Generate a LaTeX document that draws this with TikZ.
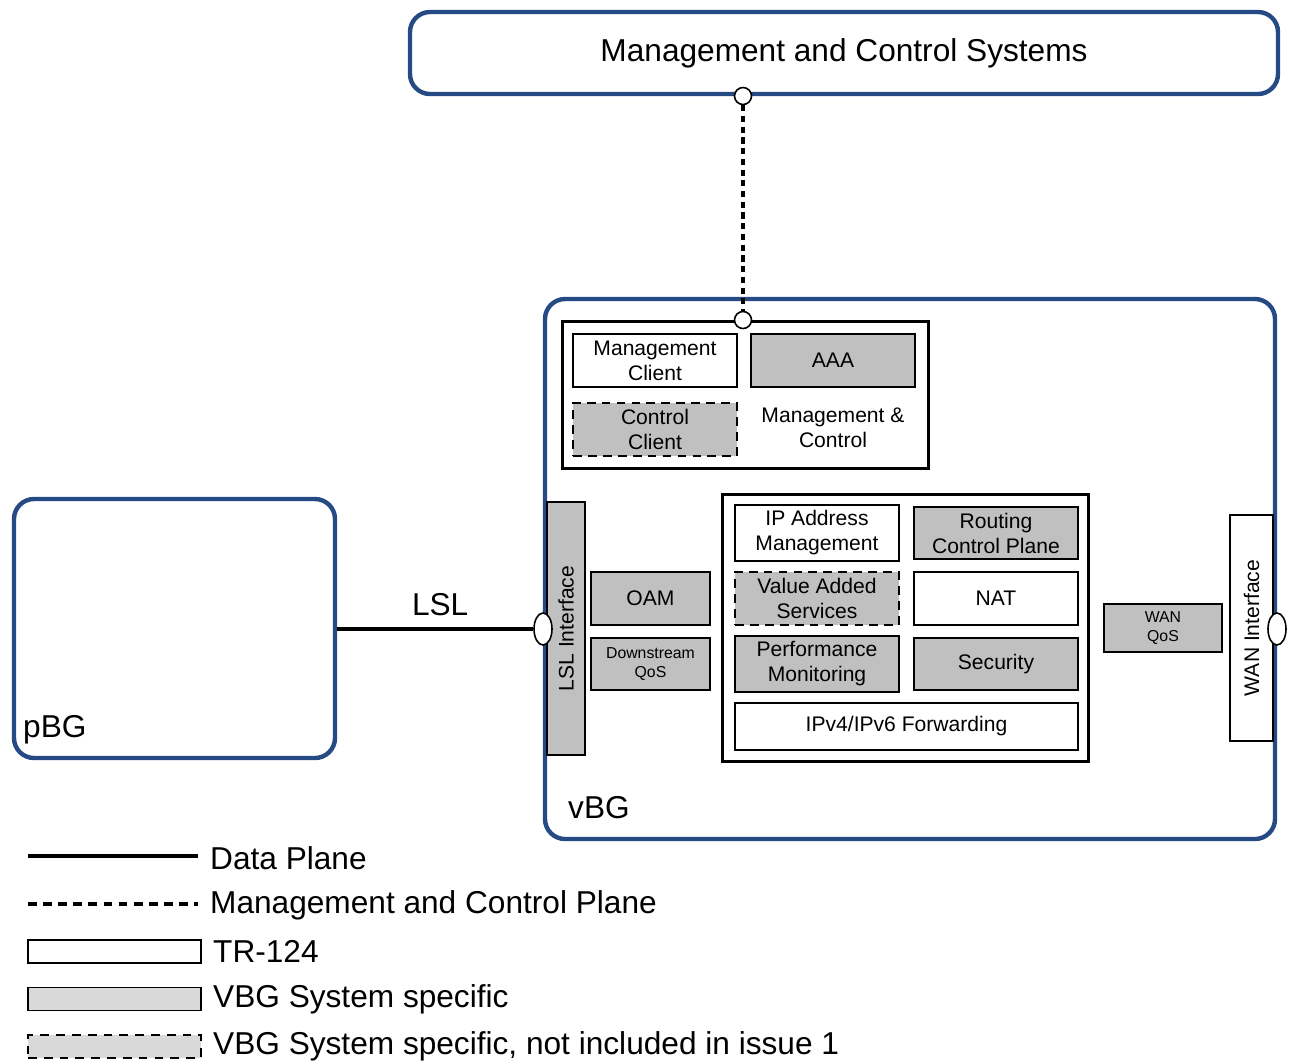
\documentclass[tikz,border=0pt]{standalone}
\usepackage{fontspec}
\setmainfont{Liberation Sans}
\usetikzlibrary{shapes.geometric}
\definecolor{frameblue}{RGB}{38,74,132}
\definecolor{sysgray}{RGB}{192,192,192}
\definecolor{leggray}{RGB}{217,217,217}
\tikzset{
  big/.style={font=\fontsize{18}{21}\selectfont},
  outer/.style={draw=frameblue, line width=2.5pt, rounded corners=0.4cm},
  group/.style={draw, line width=1.6pt},
  trbox/.style={draw, line width=0.8pt, fill=white, align=center, font=\fontsize{12}{14.2}\selectfont},
  sysbox/.style={trbox, fill=sysgray},
  sysdash/.style={sysbox, dash pattern=on 5pt off 3.5pt},
  port/.style={draw, line width=0.9pt, fill=white, inner sep=0pt},
  smalltxt/.style={font=\fontsize{9}{10.5}\selectfont}
}
\begin{document}
\begin{tikzpicture}
\useasboundingbox (0,0) rectangle (25.82,-21.26);
% top: management systems
\node[outer, big, minimum width=17.36cm, minimum height=1.64cm] (mcs) at (16.88,-1.06) {Management and Control Systems};
% vBG frame and pBG
\node[outer, minimum width=14.60cm, minimum height=10.80cm] (vbg) at (18.20,-11.38) {};
\node[big, anchor=west] at (11.24,-16.16) {vBG};
\node[outer, minimum width=6.42cm, minimum height=5.18cm] (pbg) at (3.49,-12.57) {};
\node[big, anchor=west] at (0.34,-14.60) {pBG};
% management & control block
\node[group, minimum width=7.32cm, minimum height=2.94cm] (mc) at (14.91,-7.90) {};
\node[trbox, minimum width=3.28cm, minimum height=1.06cm] (mgmtcl) at (13.10,-7.21) {Management\\Client};
\node[sysbox, minimum width=3.28cm, minimum height=1.06cm] (aaa) at (16.66,-7.21) {AAA};
\node[sysdash, minimum width=3.28cm, minimum height=1.06cm] (ctrlcl) at (13.10,-8.59) {Control\\Client};
\node[align=center, font=\fontsize{12}{14.2}\selectfont] (mclabel) at (16.66,-8.56) {Management \&\\Control};
% interfaces
\node[sysbox, rotate=90, minimum width=5.06cm, minimum height=0.76cm] (lsl) at (11.32,-12.57) {LSL Interface};
\node[trbox, rotate=90, minimum width=4.52cm, minimum height=0.86cm] (wan) at (25.03,-12.56) {WAN Interface};
\node[sysbox, minimum width=2.38cm, minimum height=1.06cm] (oam) at (13.01,-11.97) {OAM};
\node[sysbox, smalltxt, minimum width=2.38cm, minimum height=1.04cm] (dsqos) at (13.01,-13.28) {Downstream\\QoS};
\node[sysbox, smalltxt, minimum width=2.36cm, minimum height=0.96cm] (wanqos) at (23.26,-12.56) {WAN\\QoS};
% forwarding block
\node[group, minimum width=7.32cm, minimum height=5.34cm] (fwd) at (18.11,-12.56) {};
\node[trbox, minimum width=3.28cm, minimum height=1.04cm] (ipam) at (16.34,-10.66) {IP Address\\Management};
\node[sysbox, minimum width=3.28cm, minimum height=1.04cm] (rcp) at (19.92,-10.66) {Routing\\Control Plane};
\node[sysdash, minimum width=3.28cm, minimum height=1.06cm] (vas) at (16.34,-11.97) {Value Added\\Services};
\node[trbox, minimum width=3.28cm, minimum height=1.06cm] (nat) at (19.92,-11.97) {NAT};
\node[sysbox, minimum width=3.28cm, minimum height=1.04cm] (perf) at (16.34,-13.28) {Performance\\Monitoring};
\node[sysbox, minimum width=3.28cm, minimum height=1.04cm] (sec) at (19.92,-13.28) {Security};
\node[trbox, minimum width=6.86cm, minimum height=0.94cm] (ipfw) at (18.13,-14.53) {IPv4/IPv6 Forwarding};
% ports and links
\node[port, circle, minimum size=0.34cm] (mcsport) at (14.86,-1.92) {};
\node[port, circle, minimum size=0.34cm] (mcport) at (14.86,-6.40) {};
\node[port, ellipse, minimum width=0.36cm, minimum height=0.64cm] (lslport) at (10.86,-12.58) {};
\node[port, ellipse, minimum width=0.36cm, minimum height=0.64cm] (wanport) at (25.54,-12.58) {};
\draw[line width=2.4pt, dash pattern=on 3.5pt off 2.6pt] (mcsport) -- (mcport);
\draw[line width=2.3pt] (pbg.east |- lslport) -- (lslport.west) node[midway, above=3pt, xshift=0.1cm, big] {LSL};
% legend
\coordinate (ls1) at (0.56,-17.12);
\coordinate (le1) at (3.96,-17.12);
\coordinate (ls2) at (0.56,-18.08);
\coordinate (le2) at (3.96,-18.08);
\draw[line width=2.3pt] (ls1) -- (le1);
\draw[line width=2.3pt, dash pattern=on 5pt off 3.6pt] (ls2) -- (le2);
\node[big, anchor=west] (lgdata) at (4.08,-17.16) {Data Plane};
\node[big, anchor=west] (lgmc) at (4.08,-18.10) {Management and Control Plane};
\node[draw, line width=0.8pt, minimum width=3.46cm, minimum height=0.46cm] (lgtr) at (2.29,-19.03) {};
\node[draw, line width=0.8pt, fill=leggray, minimum width=3.46cm, minimum height=0.46cm] (lgsys) at (2.29,-19.98) {};
\node[draw, line width=0.8pt, fill=leggray, dash pattern=on 5pt off 4pt, minimum width=3.46cm, minimum height=0.46cm] (lgsysx) at (2.29,-20.93) {};
\node[big, anchor=west, xshift=3pt] at (lgtr.east) {TR-124};
\node[big, anchor=west, xshift=3pt] at (lgsys.east) {VBG System specific};
\node[big, anchor=west, xshift=3pt] at (lgsysx.east) {VBG System specific, not included in issue 1};
\end{tikzpicture}
\end{document}
